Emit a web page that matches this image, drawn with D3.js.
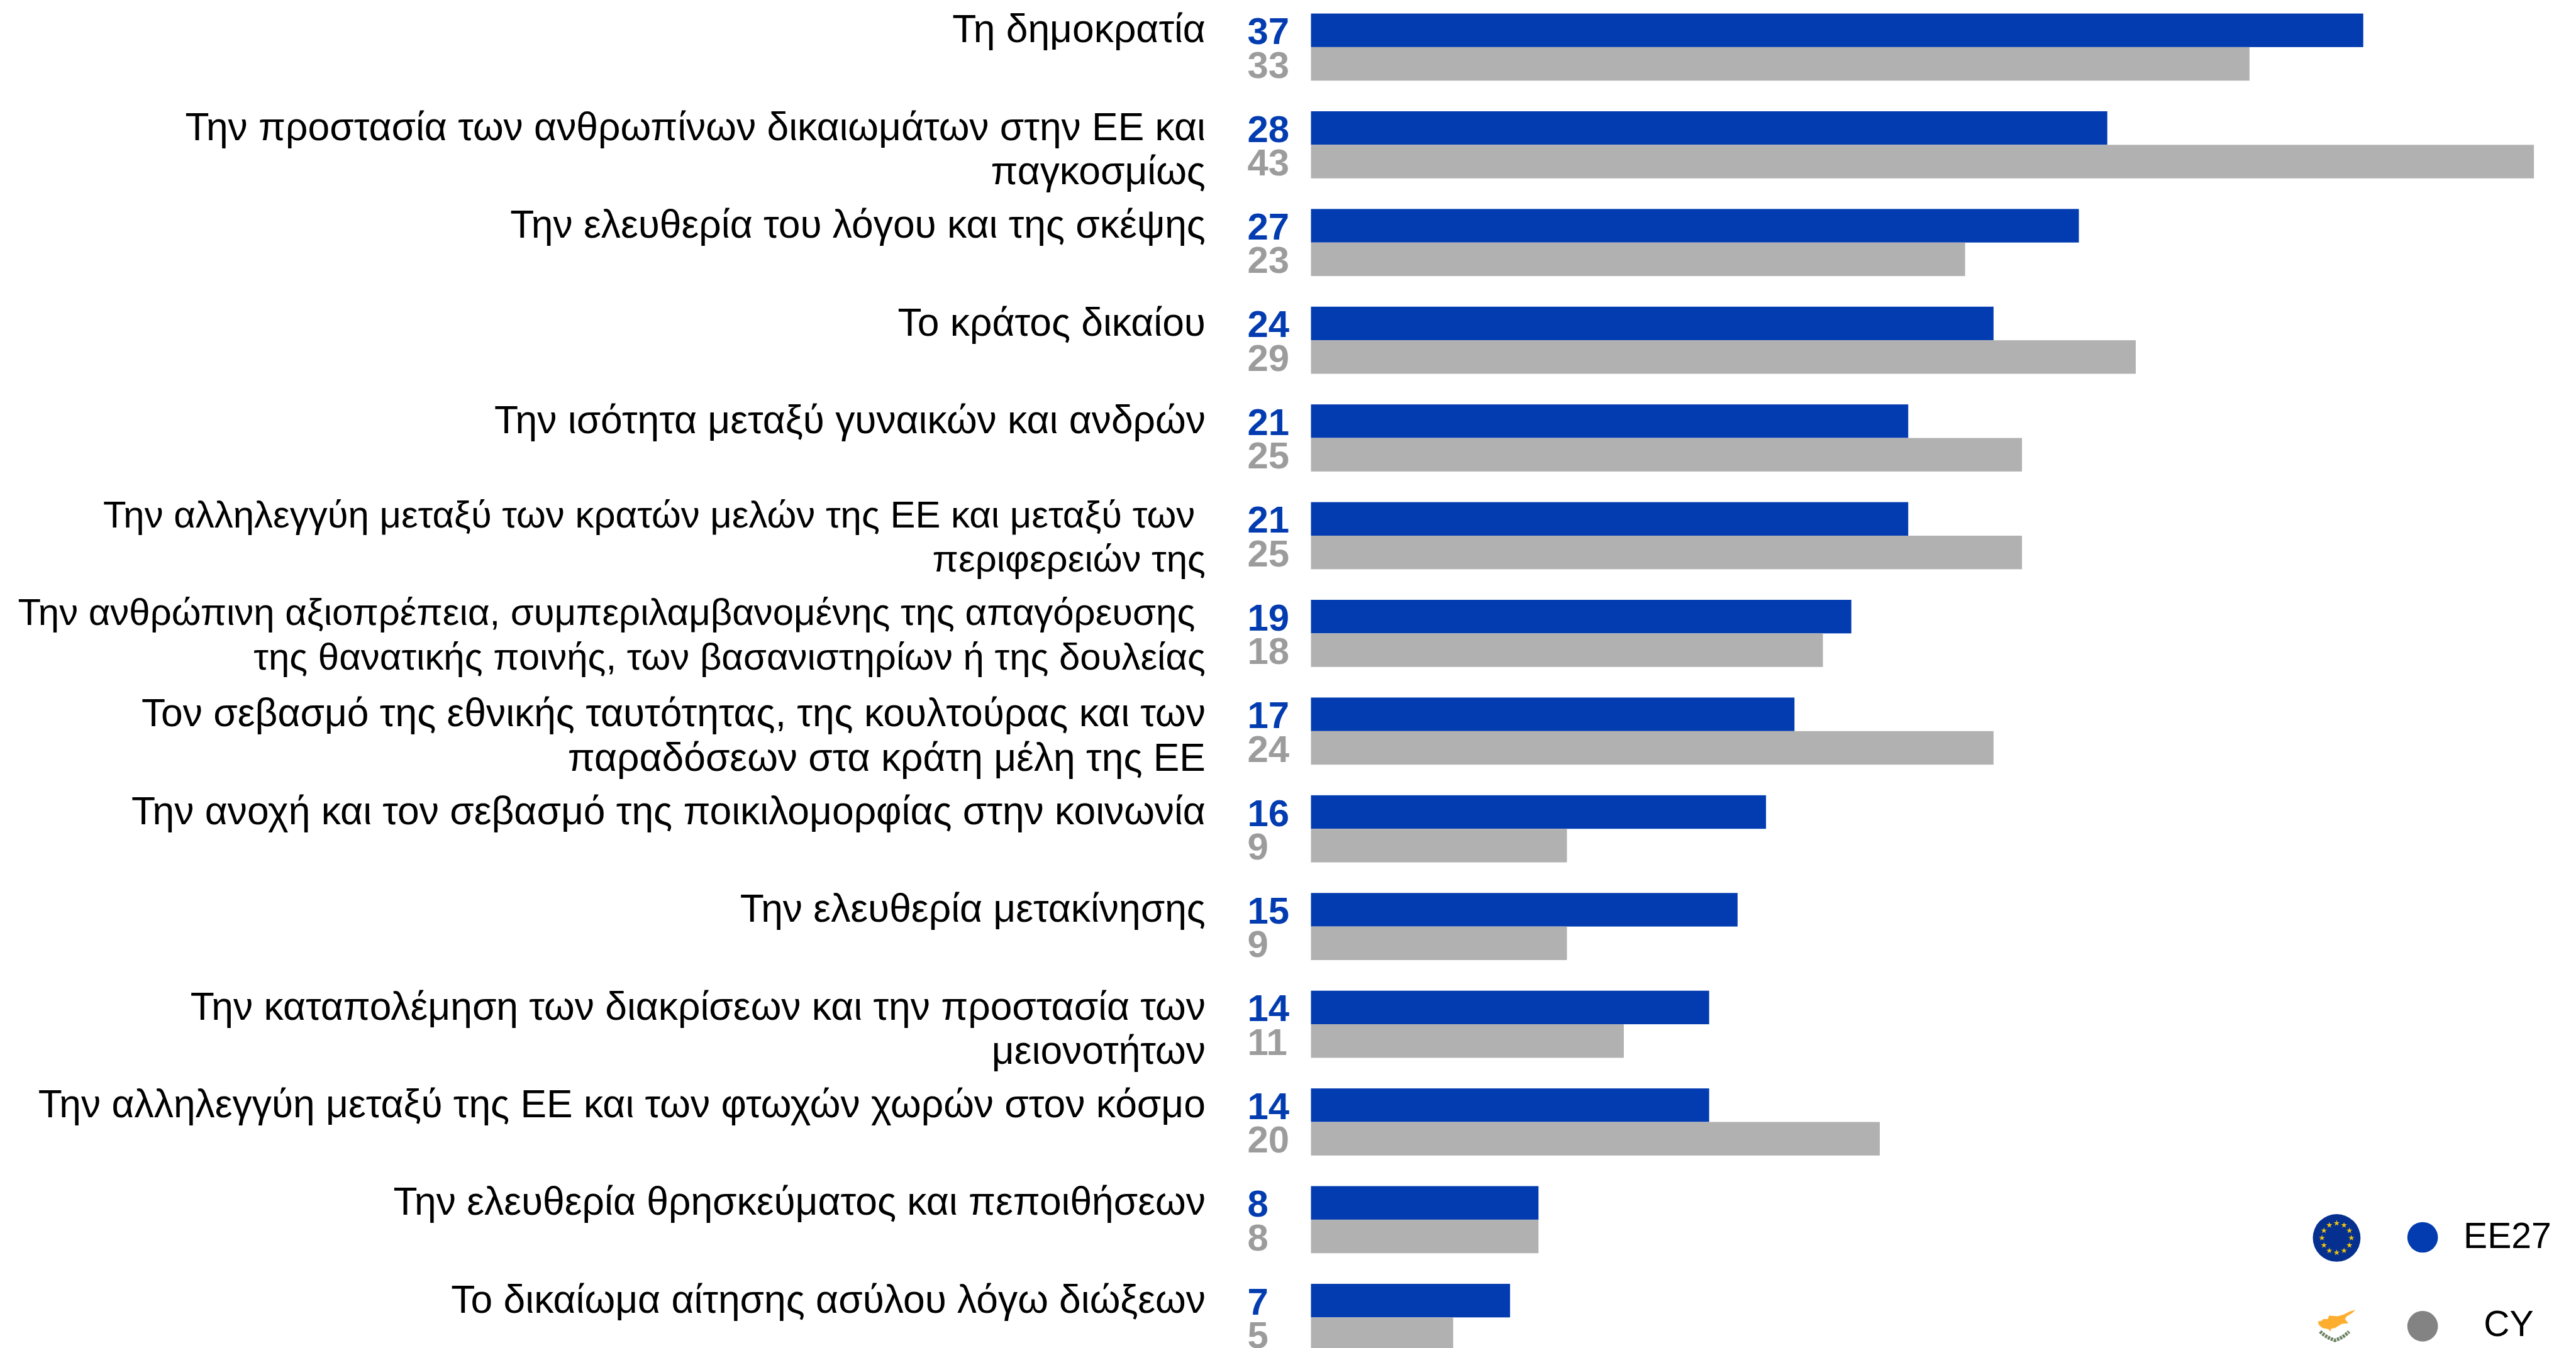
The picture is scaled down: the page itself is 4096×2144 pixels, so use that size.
<!DOCTYPE html>
<html>
<head>
<meta charset="utf-8">
<script src="https://cdn.jsdelivr.net/npm/d3@7"></script>
<style>
    html, body { margin: 0; padding: 0; background: #fff; overflow: hidden; }
    svg { display: block; }
    text { font-family: "Liberation Sans", Arial, sans-serif; white-space: pre; }
</style>
</head>
<body>
<div id="chart"></div>
<script>
// Chart values
var categories = [
    ["Τη δημοκρατία"],
    ["Την προστασία των ανθρωπίνων δικαιωμάτων στην ΕΕ και", "παγκοσμίως"],
    ["Την ελευθερία του λόγου και της σκέψης"],
    ["Το κράτος δικαίου"],
    ["Την ισότητα μεταξύ γυναικών και ανδρών"],
    ["Την αλληλεγγύη μεταξύ των κρατών μελών της ΕΕ και μεταξύ των ", "περιφερειών της"],
    ["Την ανθρώπινη αξιοπρέπεια, συμπεριλαμβανομένης της απαγόρευσης ", "της θανατικής ποινής, των βασανιστηρίων ή της δουλείας"],
    ["Τον σεβασμό της εθνικής ταυτότητας, της κουλτούρας και των", "παραδόσεων στα κράτη μέλη της ΕΕ"],
    ["Την ανοχή και τον σεβασμό της ποικιλομορφίας στην κοινωνία"],
    ["Την ελευθερία μετακίνησης"],
    ["Την καταπολέμηση των διακρίσεων και την προστασία των", "μειονοτήτων"],
    ["Την αλληλεγγύη μεταξύ της ΕΕ και των φτωχών χωρών στον κόσμο"],
    ["Την ελευθερία θρησκεύματος και πεποιθήσεων"],
    ["Το δικαίωμα αίτησης ασύλου λόγω διώξεων"]
];
var seriesNames = ["EE27", "CY"];
var ee27 = [37, 28, 27, 24, 21, 21, 19, 17, 16, 15, 14, 14, 8, 7];
var cy = [33, 43, 23, 29, 25, 25, 18, 24, 9, 9, 11, 20, 8, 5];

// Everything below is in reference pixels, the viewBox shrinks it to the window
var w = 4374;
var h = 2290;

var blue = "#033cb0";
var barGrey = "#b1b1b1";
var valueGrey = "#9c9c9c";
var dotGrey = "#838383";

var svg = d3.select("#chart")
    .append("svg")
    .attr("width", 4096)
    .attr("height", 2144)
    .attr("viewBox", "0 0 " + w + " " + h);

var xScale = d3.scaleLinear()
    .domain([0, 43])
    .range([2226, 4303]);

var yScale = d3.scaleBand()
    .domain(d3.range(categories.length))
    .range([23, 23 + 166 * categories.length - 52])
    .paddingInner(52 / 166);

var seriesScale = d3.scaleBand()
    .domain(seriesNames)
    .range([0, yScale.bandwidth()]);

var series = [
    { name: "EE27", values: ee27, bar: blue, text: blue },
    { name: "CY", values: cy, bar: barGrey, text: valueGrey }
];

// Bars and value labels
series.forEach(function(s) {
    var g = svg.append("g").attr("class", "series-" + s.name);

    g.selectAll("rect")
        .data(s.values)
        .enter()
        .append("rect")
        .attr("x", xScale(0))
        .attr("y", function(d, i) { return yScale(i) + seriesScale(s.name); })
        .attr("width", function(d) { return xScale(d) - xScale(0); })
        .attr("height", seriesScale.bandwidth())
        .attr("fill", s.bar);

    g.selectAll("text")
        .data(s.values)
        .enter()
        .append("text")
        .attr("x", 2118)
        .attr("y", function(d, i) { return yScale(i) + seriesScale(s.name) + seriesScale.bandwidth() - 5; })
        .attr("font-size", 64)
        .attr("font-weight", "bold")
        .attr("fill", s.text)
        .text(function(d) { return d; });
});

// Category labels, one or two lines, right aligned
// the two long labels with a trailing space are set smaller and higher in the reference
function isSmallLabel(i) { return i === 5 || i === 6; }

var labels = svg.append("g").attr("class", "labels")
    .selectAll("text")
    .data(categories)
    .enter()
    .append("text")
    .attr("text-anchor", "end")
    .attr("font-size", function(d, i) { return isSmallLabel(i) ? 64 : 66.6; })
    .attr("fill", "#000")
    .attr("y", function(d, i) { return yScale(i) + (isSmallLabel(i) ? 43 : 49); });

labels.selectAll("tspan")
    .data(function(d) { return d; })
    .enter()
    .append("tspan")
    .attr("x", 2047)
    .attr("dy", function(d, i) { return i === 0 ? 0 : 75; })
    .text(function(d) { return d; });

// Legend
var legend = svg.append("g").attr("class", "legend");

legend.append("circle")
    .attr("cx", 4114).attr("cy", 2102)
    .attr("r", 26)
    .attr("fill", blue);
legend.append("circle")
    .attr("cx", 4114).attr("cy", 2253)
    .attr("r", 26)
    .attr("fill", dotGrey);
legend.append("text")
    .attr("x", 4258).attr("y", 2120)
    .attr("text-anchor", "middle")
    .attr("font-size", 61)
    .text(seriesNames[0]);
legend.append("text")
    .attr("x", 4260).attr("y", 2270)
    .attr("text-anchor", "middle")
    .attr("font-size", 61)
    .text(seriesNames[1]);

// EU flag
var eu = legend.append("g").attr("transform", "translate(3968,2103)");
eu.append("circle")
    .attr("r", 40.5)
    .attr("fill", "#05308f");
eu.selectAll("path")
    .data(d3.range(12))
    .enter()
    .append("path")
    .attr("d", d3.symbol().type(d3.symbolStar).size(32))
    .attr("fill", "#f2c40c")
    .attr("transform", function(d) {
        var a = d * Math.PI / 6;
        return "translate(" + (Math.sin(a) * 25) + "," + (-Math.cos(a) * 25) + ")";
    });

// Cyprus flag: island and olive branches
var cyFlag = legend.append("g").attr("transform", "translate(3936,2225)");
cyFlag.append("path")
    .attr("d", "M0,20 L6,19 L9,16 L17,16 L19,10 L34,11 L44,8 L54,3 L64,0 L58,6 L49,11 L46,16 L52,23 L41,24 L29,31 L23,32 L21,37 L18,33 L8,31 L2,26 Z")
    .attr("fill", "#fdae2e");
cyFlag.append("path")
    .attr("d", "M4,37 Q14,47 29,52 Q44,47 53,37")
    .attr("fill", "none")
    .attr("stroke", "#6d8263")
    .attr("stroke-width", 6)
    .attr("stroke-dasharray", "4 1.5");
</script>
</body>
</html>
